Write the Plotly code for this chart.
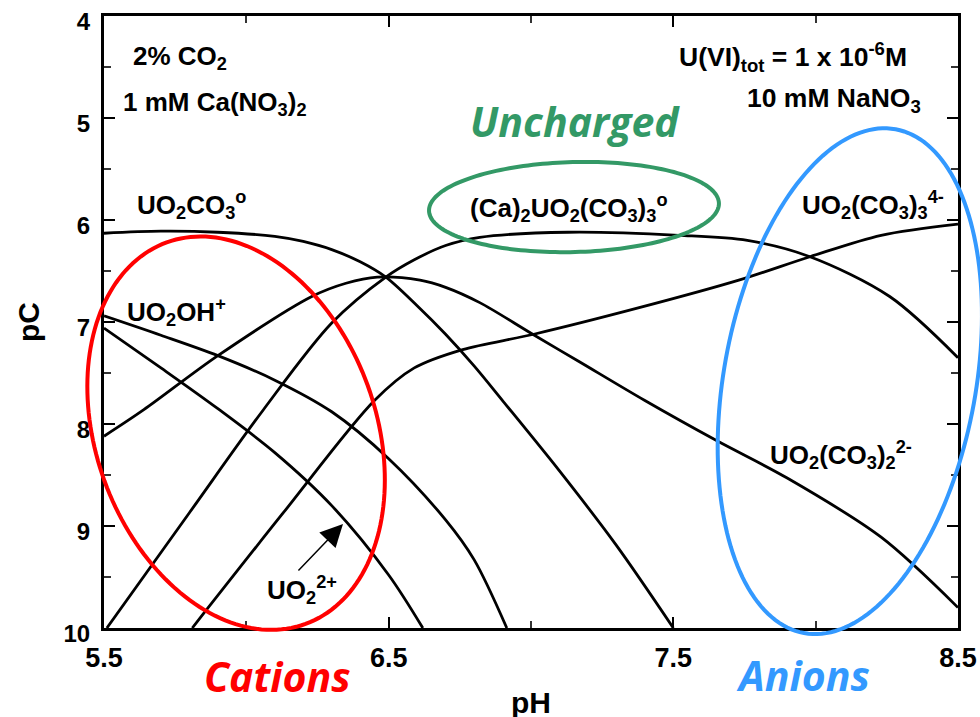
import numpy as np
import plotly.graph_objects as go

# ---------------- data ----------------
pH_UO2CO3 = [5.50, 5.70, 5.90, 6.10, 6.20, 6.30, 6.40, 6.49, 6.60, 6.70, 6.80, 6.90, 7.10, 7.30, 7.50]
pC_UO2CO3 = [6.13, 6.11, 6.12, 6.16, 6.21, 6.29, 6.41, 6.56, 6.84, 7.12, 7.43, 7.77, 8.46, 9.19, 10.0]

pH_UO2OH = [5.50, 5.70, 5.90, 6.10, 6.30, 6.50, 6.70, 6.80, 6.915]
pC_UO2OH = [6.94, 7.13, 7.33, 7.57, 7.88, 8.34, 8.94, 9.33, 10.0]

pH_UO2 = [5.50, 5.70, 5.90, 6.10, 6.30, 6.50, 6.62]
pC_UO2 = [7.06, 7.45, 7.85, 8.28, 8.80, 9.48, 10.0]

pH_UO2CO32 = [5.50, 5.64, 5.90, 6.23, 6.35, 6.46, 6.61, 6.70, 6.82, 7.00, 7.17, 7.40, 7.65, 7.90, 8.23, 8.50]
pC_UO2CO32 = [8.12, 7.86, 7.33, 6.75, 6.62, 6.56, 6.59, 6.66, 6.81, 7.11, 7.39, 7.77, 8.16, 8.53, 9.11, 9.80]

pH_Ca2UO2CO33 = [5.51, 5.80, 6.06, 6.30, 6.49, 6.59, 6.70, 6.82, 7.13, 7.52, 7.76, 7.98, 8.26, 8.50]
pC_Ca2UO2CO33 = [10.0, 8.87, 7.86, 7.01, 6.56, 6.39, 6.25, 6.17, 6.12, 6.15, 6.20, 6.36, 6.75, 7.35]

pH_UO2CO33 = [5.81, 6.13, 6.45, 6.59, 6.76, 7.01, 7.38, 7.73, 7.98, 8.23, 8.50]
pC_UO2CO33 = [10.0, 8.87, 7.77, 7.45, 7.27, 7.12, 6.86, 6.59, 6.36, 6.15, 6.04]

x_tickvals = [5.5, 6.5, 7.5, 8.5]
x_ticktext = ["5.5", "6.5", "7.5", "8.5"]
x_minor = [6.0, 7.0, 8.0]
y_tickvals = [4, 5, 6, 7, 8, 9, 10]
y_ticktext = ["4", "5", "6", "7", "8", "9", "10"]
y_minor = [4.5, 5.5, 6.5, 7.5, 8.5, 9.5]

# group ellipses: centre (pH, pC)
ell_cations = (5.964, 8.09)
ell_uncharged = (7.151, 5.873)
ell_anions = (8.12, 7.58)

# ---------------- layout geometry ----------------
W, H = 980, 717
ML, MR, MT, MB = 104, 22, 16, 89
PW, PH = W - ML - MR, H - MT - MB
X0, X1 = 5.5, 8.5
Y0, Y1 = 4.0, 10.0


def to_px(ph, pc):
    return ML + (ph - X0) / (X1 - X0) * PW, MT + (pc - Y0) / (Y1 - Y0) * PH


def P(x, y):
    return (x - ML) / PW, 1 - (y - MT) / PH


def ellipse_path(center, a, b, ang_deg):
    cx, cy = to_px(*center)
    t = np.linspace(0, 2 * np.pi, 181)
    al = np.radians(ang_deg)
    ux, uy = np.cos(al), -np.sin(al)
    vx, vy = np.sin(al), np.cos(al)
    xs = cx + a * np.cos(t) * ux + b * np.sin(t) * vx
    ys = cy + a * np.cos(t) * uy + b * np.sin(t) * vy
    pts = [P(x, y) for x, y in zip(xs, ys)]
    return "M " + " L ".join(f"{px:.5f},{py:.5f}" for px, py in pts) + " Z"


fig = go.Figure()
curves = [
    (pH_UO2CO3, pC_UO2CO3), (pH_UO2OH, pC_UO2OH), (pH_UO2, pC_UO2),
    (pH_UO2CO32, pC_UO2CO32), (pH_Ca2UO2CO33, pC_Ca2UO2CO33), (pH_UO2CO33, pC_UO2CO33),
]
for xs, ys in curves:
    fig.add_trace(go.Scatter(x=xs, y=ys, mode="lines",
                             line=dict(color="black", width=2.8, shape="spline", smoothing=0.9),
                             showlegend=False, hoverinfo="skip"))

RED, BLUE, GREEN = "#FF0000", "#3399FF", "#339966"
shapes = [
    dict(type="path", xref="paper", yref="paper", path=ellipse_path(ell_cations, 203, 140, 110),
         line=dict(color=RED, width=4), layer="above"),
    dict(type="path", xref="paper", yref="paper", path=ellipse_path(ell_anions, 256, 126, 79.7),
         line=dict(color=BLUE, width=4), layer="above"),
    dict(type="path", xref="paper", yref="paper", path=ellipse_path(ell_uncharged, 145, 45, 1.5),
         line=dict(color=GREEN, width=4), layer="above"),
]

LAB = dict(family="Liberation Sans", size=26, color="black", weight="bold")
annotations = []


def ann(text, x, y, xanchor="left", font=None, **kw):
    px, py = P(x, y)
    d = dict(text=text, x=px, y=py, xref="paper", yref="paper", xanchor=xanchor,
             yanchor="middle", showarrow=False, font=font or LAB)
    d.update(kw)
    annotations.append(d)


ann("2% CO<sub>2</sub>", 131, 58)
ann("1 mM Ca(NO<sub>3</sub>)<sub>2</sub>", 121, 104)
ann("UO<sub>2</sub>CO<sub>3</sub><sup>o</sup>", 135, 205)
ann("U(VI)<sub>tot</sub> = 1 x 10<sup>-6</sup>M", 677, 57, font=dict(LAB, size=26.5))
ann("10 mM NaNO<sub>3</sub>", 745, 100, font=dict(LAB, size=26.5))
ann("(Ca)<sub>2</sub>UO<sub>2</sub>(CO<sub>3</sub>)<sub>3</sub><sup>o</sup>", 468, 208)
ann("UO<sub>2</sub>(CO<sub>3</sub>)<sub>3</sub><sup>4-</sup>", 800, 205)
ann("UO<sub>2</sub>OH<sup>+</sup>", 125, 312)
ann("UO<sub>2</sub>(CO<sub>3</sub>)<sub>2</sub><sup>2-</sup>", 768, 455)
ann("UO<sub>2</sub><sup>2+</sup>", 265, 590)

GRP = dict(family="Open Sans", size=41, weight="bold", style="italic")
ann("Uncharged", 575, 121, xanchor="center", font=dict(GRP, color=GREEN))
ann("Cations", 277, 676, xanchor="center", font=dict(GRP, color=RED))
ann("Anions", 803, 675, xanchor="center", font=dict(GRP, color=BLUE))

TIT = dict(family="Liberation Sans", size=30, color="black", weight="bold")
ann("pH", 531, 702, xanchor="center", font=TIT)
ann("pC", 28, 322, xanchor="center", font=TIT, textangle=-90)

# arrow to UO2 2+
tx, ty = P(343, 524)
annotations.append(dict(text="", x=tx, y=ty, xref="paper", yref="paper", showarrow=True,
                        ax=-46, ay=48, arrowhead=2, arrowsize=3, arrowwidth=1.5,
                        arrowcolor="black", standoff=0))

axis_common = dict(showline=True, linewidth=3, linecolor="black", mirror="ticks",
                   ticks="inside", ticklen=11, tickwidth=2, tickcolor="black",
                   showgrid=False, zeroline=False, automargin=False)

fig.update_layout(
    width=W, height=H,
    margin=dict(l=ML, r=MR, t=MT, b=MB, autoexpand=False),
    paper_bgcolor="white", plot_bgcolor="white",
    showlegend=False,
    shapes=shapes, annotations=annotations,
    xaxis=dict(range=[X0, X1], tickvals=x_tickvals, ticktext=x_ticktext,
               tickfont=dict(family="Liberation Sans", size=27, color="black", weight="bold"),
               ticklabelstandoff=4,
               minor=dict(tickvals=x_minor, ticks="inside", ticklen=7, tickwidth=1.5, tickcolor="#333"),
               **axis_common),
    yaxis=dict(range=[Y1, Y0], tickvals=y_tickvals, ticktext=y_ticktext,
               tickfont=dict(family="Liberation Sans", size=24, color="black", weight="bold"),
               ticklabelstandoff=6, ticklabelshift=-6,
               minor=dict(tickvals=y_minor, ticks="inside", ticklen=7, tickwidth=1.5, tickcolor="#333"),
               **axis_common),
)

fig.write_html("out.html", config={"displayModeBar": False})
